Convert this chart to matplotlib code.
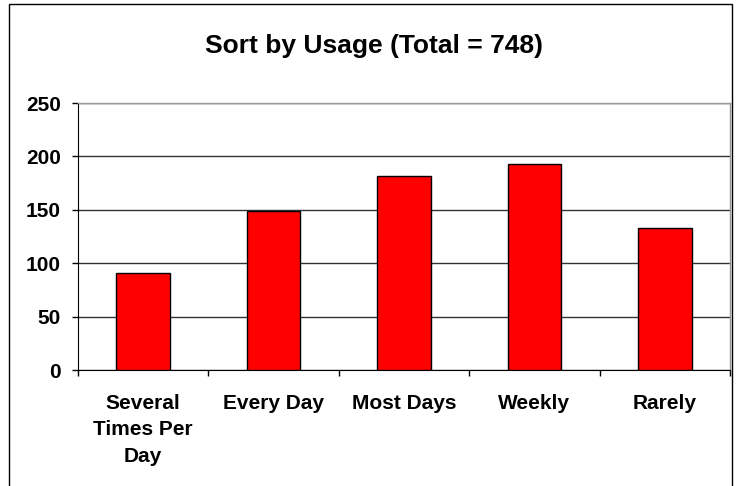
import matplotlib
matplotlib.use("Agg")
import matplotlib.pyplot as plt
from matplotlib.patches import Rectangle

categories = ["Several\nTimes Per\nDay", "Every Day", "Most Days", "Weekly", "Rarely"]
values = [91, 149, 182, 193, 133]
yticks = [0, 50, 100, 150, 200, 250]
title = "Sort by Usage (Total = 748)"

plt.rcParams['font.family'] = ['Liberation Sans', 'DejaVu Sans']

W, H = 739, 486
fig = plt.figure(figsize=(W / 100, H / 100), dpi=100)
ax = fig.add_axes([78 / W, 1 - 370 / H, (730 - 78) / W, (370 - 103) / H])

x = list(range(len(categories)))
ax.bar(x, values, width=0.41, color="#ff0000", edgecolor="black", linewidth=1.0, zorder=3)

ax.set_xlim(-0.5, len(categories) - 0.5)
ax.set_ylim(0, 250)
ax.set_yticks(yticks)
ax.set_yticklabels([str(v) for v in yticks], fontsize=15, fontweight="bold")
ax.set_xticks([i - 0.5 for i in range(len(categories) + 1)])
ax.set_xticklabels([])
ax.set_xticks(x, minor=True)
ax.set_xticklabels(categories, minor=True, fontsize=15, fontweight="bold", linespacing=1.5, va="top")
ax.tick_params(axis="x", which="minor", length=0, pad=17)
ax.tick_params(axis="x", which="major", length=4.5, width=1, color="black", direction="out")
ax.tick_params(axis="y", length=4.5, width=1, color="black", direction="out", pad=8)

ax.yaxis.grid(True, color="#333333", linewidth=1.0, zorder=0)
ax.set_axisbelow(True)
for s in ["top", "right"]:
    ax.spines[s].set_color("#999999")
    ax.spines[s].set_linewidth(1.0)
ax.spines["left"].set_color("black")
ax.spines["bottom"].set_color("black")

fig.text(374 / W, 1 - 46 / H, title, ha="center", va="center", fontsize=19, fontweight="bold")

fig.patches.append(Rectangle((9 / W, -0.05), (732 - 9) / W, 1.05 - 4 / H, transform=fig.transFigure,
                             fill=False, edgecolor="black", linewidth=1.0, clip_on=False))

fig.savefig("out.png", dpi=100)
